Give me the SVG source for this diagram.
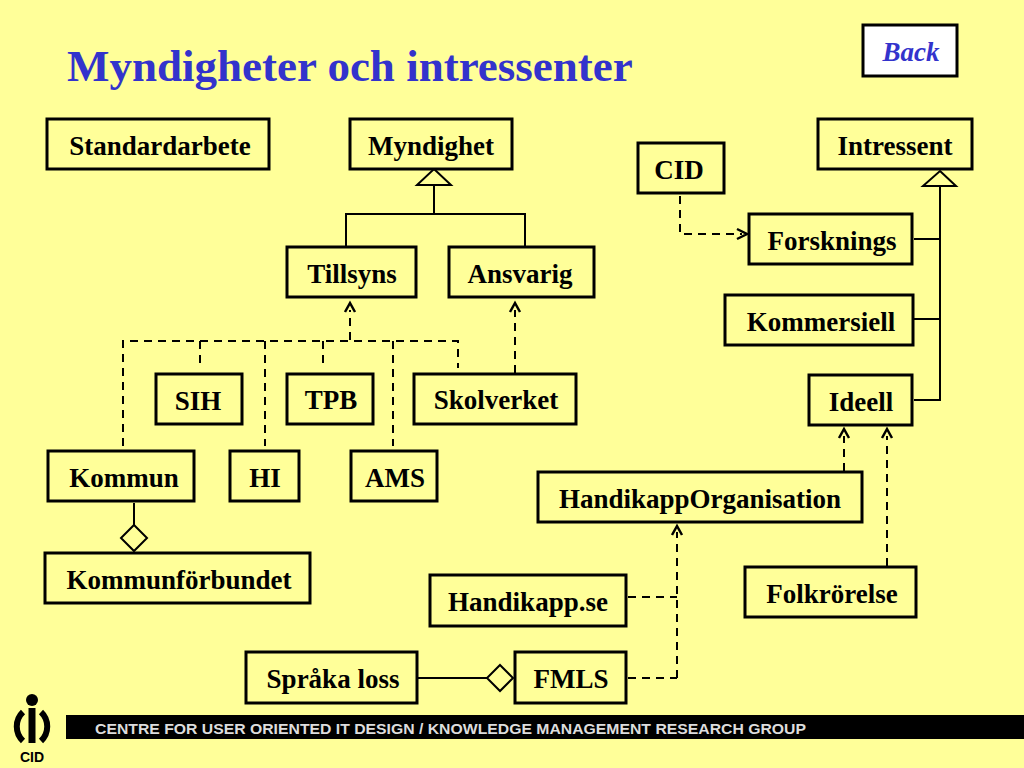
<svg xmlns="http://www.w3.org/2000/svg" width="1024" height="768" viewBox="0 0 1024 768">
<style>
.box{fill:#FFFF99;stroke:#000;stroke-width:3}
.lab{font-family:"Liberation Serif",serif;font-weight:bold;font-size:27px;fill:#000;text-anchor:middle}
.ln{fill:none;stroke:#000;stroke-width:2}
.ds{fill:none;stroke:#000;stroke-width:2;stroke-dasharray:8 6}
.ah{fill:none;stroke:#000;stroke-width:2.5}
.hd{fill:#FFFF99;stroke:#000;stroke-width:2}
</style>
<rect width="1024" height="768" fill="#FFFF99"/>
<text x="67" y="81" font-family="Liberation Serif,serif" font-weight="bold" font-size="45px" fill="#3333CC">Myndigheter och intressenter</text>
<g id="connectors">
<path class="ln" d="M346 246V214H525V246M434 214V185"/>
<path class="hd" d="M434 169L451 185H417Z"/>
<path class="ln" d="M940 186V400H914M914 239H940M914 319H940"/>
<path class="hd" d="M940 171L956 186H923Z"/>
<path class="ds" d="M350 340V310M123 446V341H458V368M200 341V368M265 341V446M323 341V368M393 341V446"/>
<path class="ah" d="M345 312L350 303L355 312"/>
<path class="ds" d="M515 373V310"/>
<path class="ah" d="M510 312L515 303L520 312"/>
<path class="ds" d="M680 196V234H742"/>
<path class="ah" d="M737 229L747 234L737 239"/>
<path class="ds" d="M844 471V436"/>
<path class="ah" d="M839 438L844 429L849 438"/>
<path class="ds" d="M887 566V436"/>
<path class="ah" d="M882 438L887 429L892 438"/>
<path class="ds" d="M677 678V532M628 597H677M628 678H677"/>
<path class="ah" d="M672 535L677 526L682 535"/>
<path class="ln" d="M134 503V525M418 678H487"/>
<path class="hd" d="M134 525L147 538L134 551L121 538Z"/>
<path class="hd" d="M500 665L513 678L500 691L487 678Z"/>
</g>
<g id="back"><rect x="863" y="25" width="94" height="51" fill="#fff" stroke="#000" stroke-width="3"/><text x="911" y="61" font-family="Liberation Serif,serif" font-weight="bold" font-style="italic" font-size="27px" fill="#3333CC" text-anchor="middle">Back</text></g>
<g id="standardarbete"><rect class="box" x="47" y="119" width="222" height="50"/><text class="lab" x="160" y="155">Standardarbete</text></g>
<g id="myndighet"><rect class="box" x="350" y="119" width="162" height="50"/><text class="lab" x="431" y="155">Myndighet</text></g>
<g id="cid"><rect class="box" x="638" y="143" width="86" height="50"/><text class="lab" x="679" y="179">CID</text></g>
<g id="intressent"><rect class="box" x="818" y="119" width="154" height="50"/><text class="lab" x="895" y="155">Intressent</text></g>
<g id="forsknings"><rect class="box" x="749" y="214" width="163" height="50"/><text class="lab" x="832" y="250">Forsknings</text></g>
<g id="tillsyns"><rect class="box" x="287" y="247" width="129" height="50"/><text class="lab" x="352" y="283">Tillsyns</text></g>
<g id="ansvarig"><rect class="box" x="449" y="247" width="145" height="50"/><text class="lab" x="520" y="283">Ansvarig</text></g>
<g id="kommersiell"><rect class="box" x="725" y="295" width="188" height="50"/><text class="lab" x="821" y="331">Kommersiell</text></g>
<g id="sih"><rect class="box" x="156" y="374" width="86" height="50"/><text class="lab" x="198" y="410">SIH</text></g>
<g id="tpb"><rect class="box" x="287" y="374" width="86" height="50"/><text class="lab" x="331" y="409">TPB</text></g>
<g id="skolverket"><rect class="box" x="414" y="374" width="162" height="50"/><text class="lab" x="496" y="409">Skolverket</text></g>
<g id="ideell"><rect class="box" x="809" y="375" width="103" height="50"/><text class="lab" x="861" y="411">Ideell</text></g>
<g id="kommun"><rect class="box" x="48" y="451" width="146" height="50"/><text class="lab" x="124" y="487">Kommun</text></g>
<g id="hi"><rect class="box" x="230" y="451" width="69" height="50"/><text class="lab" x="265" y="487">HI</text></g>
<g id="ams"><rect class="box" x="351" y="451" width="86" height="50"/><text class="lab" x="395" y="487">AMS</text></g>
<g id="handikapporganisation"><rect class="box" x="538" y="472" width="324" height="50"/><text class="lab" x="700" y="508">HandikappOrganisation</text></g>
<g id="kommunforbundet"><rect class="box" x="45" y="553" width="265" height="50"/><text class="lab" x="179" y="589">Kommunförbundet</text></g>
<g id="folkrorelse"><rect class="box" x="745" y="567" width="171" height="50"/><text class="lab" x="832" y="603">Folkrörelse</text></g>
<g id="handikappse"><rect class="box" x="430" y="575" width="196" height="51"/><text class="lab" x="528" y="611">Handikapp.se</text></g>
<g id="spraka"><rect class="box" x="246" y="652" width="171" height="51"/><text class="lab" x="333" y="688">Språka loss</text></g>
<g id="fmls"><rect class="box" x="515" y="652" width="111" height="51"/><text class="lab" x="571" y="688">FMLS</text></g>
<g id="footer">
<rect x="66" y="715" width="958" height="24" fill="#000"/>
<text x="95" y="734" font-family="Liberation Sans,sans-serif" font-size="15.5px" font-weight="bold" fill="#ddd" textLength="711" lengthAdjust="spacingAndGlyphs">CENTRE FOR USER ORIENTED IT DESIGN  /  KNOWLEDGE MANAGEMENT RESEARCH GROUP</text>
<circle cx="32" cy="700" r="6" fill="#000"/>
<path d="M32 708V743" stroke="#000" stroke-width="7" fill="none"/>
<path d="M23 712A20 20 0 0 0 23 741M41 712A20 20 0 0 1 41 741" stroke="#000" stroke-width="6" fill="none"/>
<text x="32" y="762" font-family="Liberation Sans,sans-serif" font-size="14px" font-weight="bold" fill="#000" text-anchor="middle">CID</text>
</g>
</svg>
